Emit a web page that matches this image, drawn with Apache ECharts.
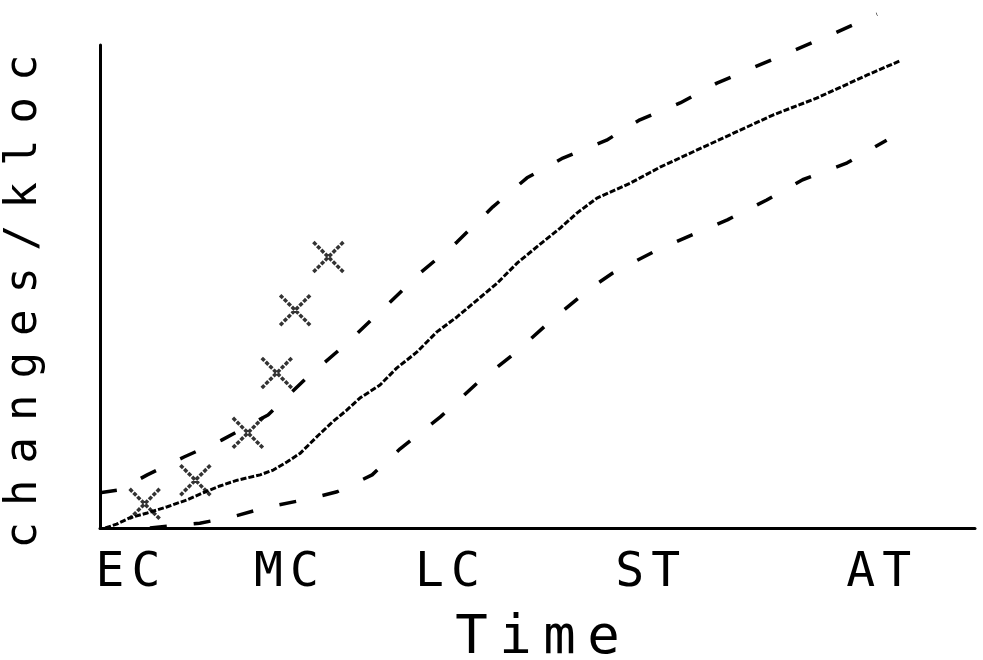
<!DOCTYPE html>
<html>
<head>
<meta charset="utf-8">
<title>changes/kloc over time</title>
<script src="https://cdn.jsdelivr.net/npm/echarts@6/dist/echarts.min.js"></script>
<style>
  html, body { margin: 0; padding: 0; background: #fff; }
  #chart { width: 983px; height: 660px; }
</style>
</head>
<body>
<div id="chart"></div>
<script>
// Life-cycle phase labels and their positions on the time axis
const phaseLabels = ['EC', 'MC', 'LC', 'ST', 'AT'];
const phaseTicks = [3.2, 21.3, 39.7, 62.6, 89.0];

// Expected changes/kloc (centre curve), [time, value]
const expected = [
  [0.6, 0], [1.9, 0.8], [3.4, 2.1], [5.4, 3.1], [7.7, 4.4], [9.9, 5.8],
  [11.8, 7.3], [13.7, 8.7], [15.7, 9.9], [18.3, 11.0], [19.8, 12.0],
  [21.4, 13.7], [22.9, 15.5], [24.9, 19.1], [26.6, 22.0], [28.2, 24.4],
  [29.7, 26.9], [32.0, 29.6], [33.9, 33.1], [36.2, 36.4], [38.5, 40.6],
  [40.8, 43.7], [43.1, 47.2], [45.4, 50.7], [47.7, 54.9], [50.6, 59.2],
  [52.6, 62.1], [54.5, 65.2], [56.8, 68.3], [60.6, 71.4], [64.0, 74.7],
  [67.8, 77.9], [72.0, 81.4], [76.9, 85.5], [81.9, 89.0], [87.7, 93.8],
  [91.4, 96.7]
];

// Upper bound
const upperBound = [
  [0, 7.3], [2.3, 7.9], [5.4, 11.0], [9.6, 14.7], [13.9, 18.2], [19.2, 23.4],
  [23.5, 30.9], [28.0, 37.9], [32.2, 45.1], [36.6, 52.8], [40.8, 59.2],
  [44.9, 66.5], [48.8, 72.5], [52.9, 76.6], [57.9, 80.3], [61.7, 84.5],
  [66.3, 88.0], [70.5, 92.1], [74.9, 95.5], [79.2, 98.8], [84.0, 102.5],
  [88.8, 106.4]
];

// Lower bound
const lowerBound = [
  [5.7, 0], [11.4, 1.0], [15.1, 2.3], [19.3, 4.4], [23.8, 6.0], [27.1, 7.5],
  [31.1, 11.0], [34.3, 16.4], [38.9, 23.0], [43.1, 30.0], [47.4, 36.2],
  [51.4, 42.7], [55.8, 49.3], [58.6, 52.8], [63.2, 57.1], [67.4, 60.5],
  [71.7, 63.8], [76.2, 67.9], [80.3, 72.1], [85.4, 75.6], [89.9, 80.3]
];

// Observed values
const observed = [
  [5.1, 5.0], [10.9, 9.9], [16.9, 19.7], [20.2, 32.1], [22.3, 45.1], [26.1, 56.1]
];

const INK = '#000';
const FONT = '"DejaVu Sans Mono", monospace';

// Lay text out on a fixed character pitch, like a dot-matrix printer
function pitched(text, style) {
  return text.split('').map(c => '{' + style + '|' + c + '}').join('');
}

const chart = echarts.init(document.getElementById('chart'), null, { renderer: 'canvas' });

chart.setOption({
  animation: false,
  backgroundColor: '#fff',
  grid: { left: 100, right: 8, top: 45, bottom: 132, containLabel: false, outerBoundsMode: 'none' },
  xAxis: {
    type: 'value',
    min: 0,
    max: 100,
    name: pitched('Time', 'n'),
    nameLocation: 'middle',
    nameGap: 84,
    nameTextStyle: {
      rich: { n: { width: 44, align: 'center', fontSize: 54, fontFamily: FONT, color: INK } }
    },
    axisLine: { show: true, onZero: false, lineStyle: { color: INK, width: 3 } },
    axisTick: { show: false },
    splitLine: { show: false },
    axisLabel: {
      customValues: phaseTicks,
      margin: 22,
      formatter: function (v) {
        let best = 0;
        phaseTicks.forEach((t, i) => { if (Math.abs(t - v) < Math.abs(phaseTicks[best] - v)) best = i; });
        return pitched(phaseLabels[best], 'p');
      },
      rich: { p: { width: 36, align: 'center', fontSize: 48, fontFamily: FONT, color: INK } }
    }
  },
  yAxis: {
    type: 'value',
    min: 0,
    max: 100,
    name: pitched('changes/kloc', 'n'),
    nameLocation: 'middle',
    nameGap: 53,
    nameRotate: 90,
    nameTextStyle: {
      padding: [0, 30, 0, 0],
      rich: { n: { width: 42.5, align: 'center', fontSize: 44, fontFamily: FONT, color: INK } }
    },
    axisLine: { show: true, onZero: false, lineStyle: { color: INK, width: 3 } },
    axisTick: { show: false },
    axisLabel: { show: false },
    splitLine: { show: false }
  },
  series: [
    {
      name: 'expected',
      type: 'line',
      data: expected,
      showSymbol: false,
      clip: false,
      lineStyle: { color: INK, width: 3, type: [6, 2] }
    },
    {
      name: 'upper',
      type: 'line',
      data: upperBound,
      showSymbol: false,
      clip: false,
      lineStyle: { color: INK, width: 3.5, type: [17, 27] }
    },
    {
      name: 'lower',
      type: 'line',
      data: lowerBound,
      showSymbol: false,
      clip: false,
      lineStyle: { color: INK, width: 3.5, type: [17, 27] }
    },
    {
      name: 'observed',
      type: 'scatter',
      data: observed,
      clip: false,
      symbol: 'path://M0,0L10,10M10,0L0,10',
      symbolSize: 30,
      itemStyle: { color: 'none', borderColor: INK, borderWidth: 3.5, borderType: [4, 1.5] }
    }
  ]
});
</script>
</body>
</html>
